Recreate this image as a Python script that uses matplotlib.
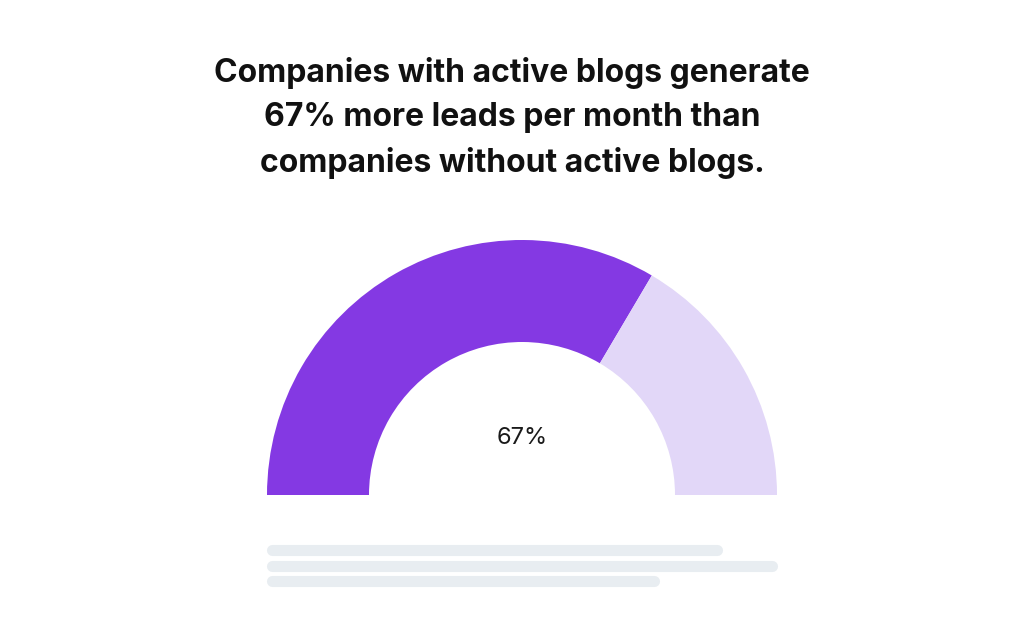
import matplotlib
matplotlib.use('Agg')
from matplotlib import pyplot as plt

title = 'Companies with active blogs generate\n67% more leads per month than\ncompanies without active blogs.'
shares = [67, 33]
colors = ['#8439E3', '#E2D7F8']
label = '67%'

# decorative placeholder lines under the gauge (start, end, y) in pixels
bar_lines = [(272, 717, 550), (272, 772, 566), (272, 654, 581)]

W, H = 1024, 639
fig = plt.figure(figsize=(W / 100, H / 100), dpi=100)
ax = fig.add_axes([0, 0, 1, 1])
ax.set_xlim(0, W)
ax.set_ylim(0, H)
ax.axis('off')

cx, cy = 522, H - 495
# full circle: visible top half is the data, bottom half hidden
ax.pie(shares + [sum(shares)], colors=colors + ['none'], startangle=180,
       counterclock=False, radius=255, center=(cx, cy),
       wedgeprops=dict(width=102, linewidth=0), frame=True)
ax.set_xlim(0, W)
ax.set_ylim(0, H)
ax.set_aspect('auto')
ax.axis('off')

ax.text(cx, H - 438, label, ha='center', va='center', fontsize=17,
        family='Inter', color='#1a1a1a')
ax.text(W / 2, H - 118, title, ha='center', va='center', fontsize=23,
        family='Inter', fontweight='bold', color='#111111', linespacing=1.55)

for x0, x1, y in bar_lines:
    ax.plot([x0, x1], [H - y, H - y], color='#E8EDF1', lw=8,
            solid_capstyle='round')

fig.savefig('out.png', dpi=100)
